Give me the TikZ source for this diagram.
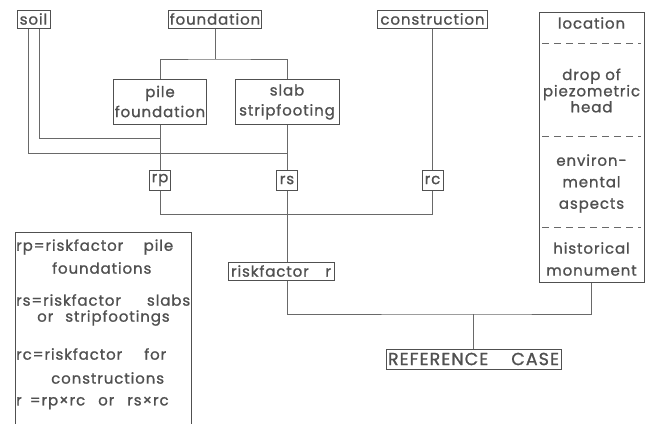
\documentclass[tikz,border=0pt]{standalone}
\usepackage{fontspec}
\setmainfont{Poppins}[LetterSpace=6, FakeBold=1.1]
\usetikzlibrary{positioning,calc}
\definecolor{framecolor}{RGB}{80, 80, 80}
\definecolor{linkcolor}{RGB}{105, 105, 105}
\definecolor{labelcolor}{RGB}{80, 80, 80}

\begin{document}
\begin{tikzpicture}[
    x=1pt, y=-1pt,
    % Estilos dos nós
    factor/.style={
        rectangle,
        draw=framecolor,
        line width=1pt,
        inner sep=1pt,
        minimum height=18pt,
        align=center,
        text=labelcolor,
        font=\fontsize{15}{16}\selectfont
    },
    subtype/.style={
        factor,
        minimum height=45pt
    },
    risk/.style={
        factor,
        minimum width=21pt,
        minimum height=20pt
    },
    result/.style={
        factor,
        minimum width=175pt,
        minimum height=20pt,
        font=\fontsize{17.5}{18}\selectfont
    },
    aspect_box/.style={
        rectangle,
        draw=framecolor,
        line width=1pt,
        minimum width=105pt,
        minimum height=270pt
    },
    aspect_text/.style={
        align=center,
        inner sep=0pt,
        text=labelcolor,
        font=\fontsize{15}{14.5}\selectfont
    },
    legend_text/.style={
        anchor=west,
        inner sep=0pt,
        text=labelcolor,
        font=\fontsize{15}{16}\selectfont
    },
    connector/.style={draw=linkcolor, line width=0.8pt},
    divider/.style={draw=linkcolor, line width=0.8pt, dash pattern=on 7pt off 5pt}
]
\useasboundingbox (0,0) rectangle (652,423);

% ============================================================================
% Fatores de entrada
% ============================================================================
\node[factor, minimum width=33pt] (soil) at (33.5,19) {soil};
\node[factor, minimum width=93pt] (foundation) at (215,19) {foundation};
\node[factor, minimum width=110pt] (construction) at (432.5,19) {construction};

% ============================================================================
% Tipos de fundação
% ============================================================================
\node[subtype, minimum width=90pt] (pile) at (160,101.5) {pile\\[4pt]foundation};
\node[subtype, minimum width=104pt] (slab) at (287,102) {slab\\[4pt]stripfooting};

% ============================================================================
% Fatores de risco
% ============================================================================
\node[risk] (rp) at (160,180) {rp};
\node[risk] (rs) at (287,180) {rs};
\node[risk] (rc) at (432.5,180) {rc};
\node[factor, minimum width=106pt] (riskr) at (281,271) {\makebox[100pt]{riskfactor\hfill r}};
\node[result] (refcase) at (473.5,359) {\makebox[171pt]{REFERENCE\hfill CASE}};

% ============================================================================
% Aspectos
% ============================================================================
\node[aspect_box] (aspects) at (591.5,147) {};
\node[aspect_text] (loc) at (591.5,23) {location};
\node[aspect_text] (drop) at (591.5,90.5) {drop of\\piezometric\\head};
\node[aspect_text, font=\fontsize{15}{21.5}\selectfont] (env) at (591.5,183.5) {environ-\\mental\\aspects};
\node[aspect_text, font=\fontsize{15}{22}\selectfont] (hist) at (591.5,259) {historical\\monument};
\foreach \y in {43,136,227}
    \draw[divider] (542,\y) -- (641,\y);

% ============================================================================
% Ligações
% ============================================================================
\coordinate (fjoin) at (215,59);
\coordinate (pilejoin) at (160,138);
\coordinate (slabjoin) at (287,153);
\coordinate (rcjoin) at (432.5,214);
\coordinate (casejoin) at (473.5,314);

\draw[connector] (foundation.south) -- (fjoin);
\draw[connector] (pile.north) |- (fjoin) -| (slab.north);
\draw[connector] ([xshift=5.5pt]soil.south) |- (pilejoin);
\draw[connector] ([xshift=-5.5pt]soil.south) |- (slabjoin);
\draw[connector] (pile.south) -- (rp.north);
\draw[connector] (slab.south) -- (rs.north);
\draw[connector] (construction.south) -- (rc.north);
\draw[connector] (rp.south) |- (rcjoin) -- (rc.south);
\draw[connector] (rs.south) -- (rs.south |- riskr.north);
\draw[connector] (rs.south |- riskr.south) |- (casejoin) -| (aspects.south);
\draw[connector] (casejoin) -- (refcase.north);

% ============================================================================
% Legenda
% ============================================================================
\draw[connector, draw=framecolor, line width=1pt] (15,430) -- (15,232) -- (191,232) -- (191,430);
\foreach \x/\y/\txt [count=\i] in {
    16/247/{\makebox[157pt]{rp=riskfactor\hfill pile}},
    52/268/{foundations},
    16/300/{\makebox[174pt]{rs=riskfactor\hfill slabs}},
    37/318/{or\hspace{12pt}stripfootings},
    16/354/{\makebox[150pt]{rc=riskfactor\hfill for}},
    51/378/{constructions},
    16/403/{r\hspace{8pt}=rp×rc\hspace{13pt}or\hspace{13pt}rs×rc}}
    \node[legend_text] (leg\i) at (\x,\y) {\txt};

\end{tikzpicture}
\end{document}
